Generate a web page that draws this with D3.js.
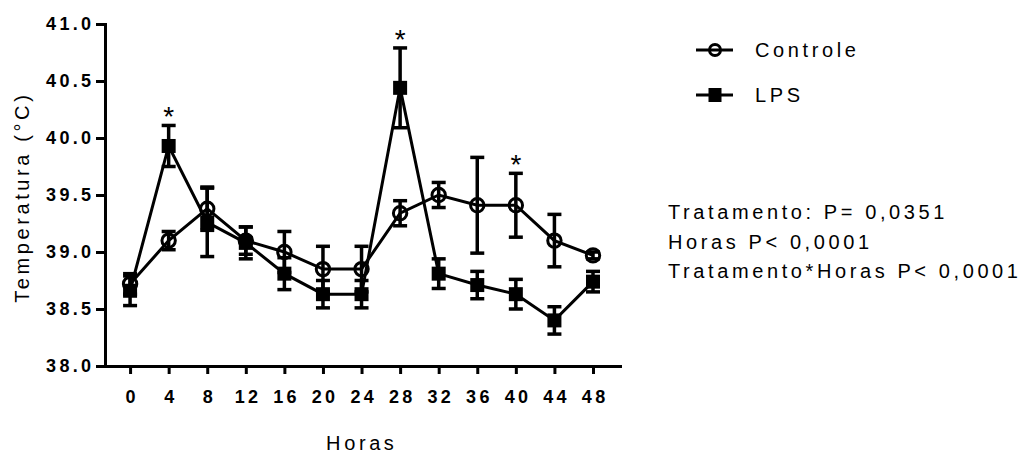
<!DOCTYPE html>
<html>
<head>
<meta charset="utf-8">
<script src="https://cdn.jsdelivr.net/npm/d3@7"></script>
<style>
  html, body { margin: 0; padding: 0; background: #fff; }
  svg { display: block; }
  text { font-family: "Liberation Sans", Arial, sans-serif; fill: #000; }
</style>
</head>
<body>
<svg id="chart" width="1029" height="454"></svg>
<script>
// ---- Data ----
const hours = [0, 4, 8, 12, 16, 20, 24, 28, 32, 36, 40, 44, 48];
const controleMean = [38.72, 39.10, 39.38, 39.10, 39.00, 38.85, 38.85, 39.34, 39.50, 39.41, 39.41, 39.10, 38.97];
const controleSem  = [0.09, 0.08, 0.19, 0.12, 0.18, 0.20, 0.20, 0.11, 0.11, 0.42, 0.28, 0.23, 0.03];
const lpsMean = [38.66, 39.93, 39.26, 39.08, 38.81, 38.63, 38.63, 40.44, 38.81, 38.71, 38.63, 38.40, 38.74];
const lpsSem  = [0.13, 0.18, 0.30, 0.14, 0.14, 0.12, 0.12, 0.35, 0.13, 0.12, 0.13, 0.12, 0.09];
const significantHours = [4, 28, 40];
const yTicks = [38.0, 38.5, 39.0, 39.5, 40.0, 40.5, 41.0];
const xTicks = hours;
const seriesNames = ["Controle", "LPS"];
const statsLines = ["Tratamento: P= 0,0351", "Horas P< 0,0001", "Tratamento*Horas P< 0,0001"];
const yTitle = "Temperatura (°C)";
const xTitle = "Horas";

// ---- Layout ----
const svg = d3.select("#chart");
const x = d3.scaleLinear().domain([-2.6, 50.8]).range([105, 620]);
const y = d3.scaleLinear().domain([38, 41]).range([366, 24]);

const TICK_LS = 3.3;   // letter spacing for tick labels
const LS = 3.6;        // letter spacing for regular text

// Y axis
const yAxis = svg.append("g").attr("transform", "translate(105,0)")
  .call(d3.axisLeft(y).tickValues(yTicks).tickFormat(d3.format(".1f")).tickSize(9).tickSizeOuter(0).tickPadding(5));
// X axis
const xAxis = svg.append("g").attr("transform", "translate(0,366)")
  .call(d3.axisBottom(x).tickValues(xTicks).tickFormat(d3.format("d")).tickSize(8).tickSizeOuter(0).tickPadding(16));

[yAxis, xAxis].forEach(g => {
  g.select(".domain").attr("stroke", "#000").attr("stroke-width", 3).attr("stroke-linecap", "square");
  g.selectAll(".tick line").attr("stroke", "#000").attr("stroke-width", 3);
  g.selectAll(".tick text")
    .style("font-family", "'Liberation Sans', Arial, sans-serif")
    .style("font-weight", "bold")
    .style("font-size", "18px")
    .style("letter-spacing", TICK_LS + "px")
    .attr("fill", "#000");
});
xAxis.selectAll(".tick text").attr("dx", (TICK_LS / 2) + "px");
yAxis.selectAll(".tick text").attr("dx", TICK_LS + "px");

// Axis titles
svg.append("text")
  .attr("transform", `translate(29,${(y(38) + y(41)) / 2 + 4}) rotate(-90)`)
  .attr("text-anchor", "middle")
  .attr("dx", LS / 2)
  .style("font-size", "20px")
  .style("letter-spacing", LS + "px")
  .text(yTitle);

svg.append("text")
  .attr("x", 360 + LS / 2)
  .attr("y", 450)
  .attr("text-anchor", "middle")
  .style("font-size", "20px")
  .style("letter-spacing", LS + "px")
  .text(xTitle);

// ---- Series ----
const controle = hours.map((h, i) => ({ h, m: controleMean[i], s: controleSem[i] }));
const lps = hours.map((h, i) => ({ h, m: lpsMean[i], s: lpsSem[i] }));
const line = d3.line().x(d => x(d.h)).y(d => y(d.m));
const CAP = 7;

function drawSeries(data, kind) {
  const g = svg.append("g");
  g.append("path").datum(data).attr("d", line)
    .attr("fill", "none").attr("stroke", "#000").attr("stroke-width", 3).attr("stroke-linejoin", "miter");
  const eb = g.selectAll(".eb").data(data).enter().append("g");
  eb.append("line")
    .attr("x1", d => x(d.h)).attr("x2", d => x(d.h))
    .attr("y1", d => y(d.m - d.s)).attr("y2", d => y(d.m + d.s))
    .attr("stroke", "#000").attr("stroke-width", 3.5);
  eb.append("line")
    .attr("x1", d => x(d.h) - CAP).attr("x2", d => x(d.h) + CAP)
    .attr("y1", d => y(d.m + d.s)).attr("y2", d => y(d.m + d.s))
    .attr("stroke", "#000").attr("stroke-width", 3.5);
  eb.append("line")
    .attr("x1", d => x(d.h) - CAP).attr("x2", d => x(d.h) + CAP)
    .attr("y1", d => y(d.m - d.s)).attr("y2", d => y(d.m - d.s))
    .attr("stroke", "#000").attr("stroke-width", 3.5);
  if (kind === "circle") {
    g.selectAll(".pt").data(data).enter().append("circle")
      .attr("cx", d => x(d.h)).attr("cy", d => y(d.m)).attr("r", 6.7)
      .attr("fill", "none").attr("stroke", "#000").attr("stroke-width", 3);
  } else {
    g.selectAll(".pt").data(data).enter().append("rect")
      .attr("x", d => x(d.h) - 7).attr("y", d => y(d.m) - 7)
      .attr("width", 14).attr("height", 14).attr("fill", "#000");
  }
}
drawSeries(controle, "circle");
drawSeries(lps, "square");

// Significance asterisks
significantHours.forEach(h => {
  const i = hours.indexOf(h);
  const top = Math.max(controleMean[i] + controleSem[i], lpsMean[i] + lpsSem[i]);
  svg.append("text")
    .attr("x", x(h)).attr("y", y(top) + 1)
    .attr("text-anchor", "middle")
    .style("font-size", "28px")
    .text("*");
});

// ---- Legend ----
const legend = svg.append("g");
const legY = [50, 95];
seriesNames.forEach((name, i) => {
  const gy = legY[i];
  legend.append("line").attr("x1", 696).attr("x2", 733).attr("y1", gy).attr("y2", gy)
    .attr("stroke", "#000").attr("stroke-width", 3);
  if (i === 0) {
    legend.append("circle").attr("cx", 715).attr("cy", gy).attr("r", 5.5)
      .attr("fill", "none").attr("stroke", "#000").attr("stroke-width", 3);
  } else {
    legend.append("rect").attr("x", 708.5).attr("y", gy - 7).attr("width", 13).attr("height", 14).attr("fill", "#000");
  }
  legend.append("text").attr("x", 755).attr("y", gy + 7)
    .style("font-size", "20px").style("letter-spacing", LS + "px").text(name);
});

// ---- Stats text ----
statsLines.forEach((t, i) => {
  svg.append("text").attr("x", 668).attr("y", 219 + i * 29.5)
    .style("font-size", "20px").style("letter-spacing", LS + "px").text(t);
});
</script>
</body>
</html>
